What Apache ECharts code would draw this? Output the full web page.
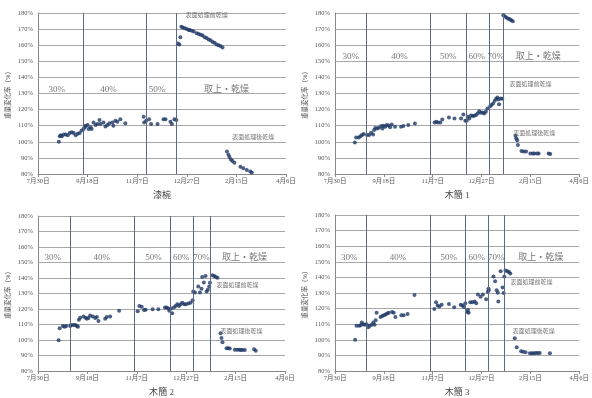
<!DOCTYPE html>
<html>
<head>
<meta charset="utf-8">
<script src="https://cdn.jsdelivr.net/npm/echarts@6/dist/echarts.min.js"></script>
<style>
  html, body { margin: 0; padding: 0; background: #fff; }
  #chart { width: 592px; height: 398px; }
</style>
</head>
<body>
<div id="chart"></div>
<script>
// x = days since 7/30, ticks every 50 days
const xTicks = ['7月30日', '9月18日', '11月7日', '12月27日', '2月15日', '4月6日'];
const titles = ['漆椀', '木簡 1', '木簡 2', '木簡 3'];

// 漆椀
const pts1 = [[21,100],[22,103.5],[23,104],[24,103.5],[26,104.5],[28,104.5],[30,104],[32,105.5],[34,106],[36,105.5],[38,104],[40,105],[42,105.5],[44,107],[46,108],[47,109],[48,110],[50,110.5],[51,108],[53,109],[54,108],[56,112],[58,110.5],[60,111],[62,113.5],[63,111],[66,112],[68,109.5],[70,110.5],[72,111.5],[75,112],[76,110],[78,113],[80,112.5],[83,114],[88,111.5],
  [106.5,115.5],[107,112],[109,113],[112,114],[114,111],[120.5,111],[126.5,114],[128.5,114],[133.5,112.5],[135,111],[137.5,114],[139.5,113.5],
  [141,161],[142.5,160.5],[143.5,165],[144.5,171.5],[146,171],[148,170.5],[150,170],[152,169.5],[153,169.5],[155,169],[157,168.5],[160,167.5],[162,167],[164,166.5],[166,166],[168,165],[170,164.5],[172,163.5],[174,163],[176,162],[178,161.5],[180,160.5],[182,160],[184,159.5],[186,158.5],
  [190.5,94],[192,92],[193,90.5],[194.5,89],[196,88],[198,87],[204,84.5],[207,83.5],[210.5,82.5],[214,81.5],[215.5,81]];
const lines1 = [46, 109, 139];
const labels1 = [[19,132.5,'30%'],[71,132.5,'40%'],[120,132.5,'50%'],[190,132.5,'取上・乾燥'],[170,178.5,'表面処理前乾燥'],[217,102.5,'表面処理後乾燥']];

// 木簡 1
const pts2 = [[20.3,99.6],[21.6,102.7],[24.3,102.7],[26,103.5],[27.7,104.2],[29.4,104.8],[32.8,104.2],[35,104.2],[37,105.6],[39,104.6],[40,107.3],[41.2,108.5],[43,108.3],[45,108.7],[47.3,109.8],[48.6,108.3],[49.7,110],[51.4,109.3],[53,110.4],[54.7,110.2],[56.4,109],[58,110.8],[61.5,109.3],[67.6,109.3],[70,109.8],[75,110.4],[81.8,111.4],
  [102,112],[103.7,112.4],[105.4,112],[107.8,112],[109.8,113.9],[116.6,115.1],[122.3,114.5],[129,114.5],[131.4,117],[133.4,113],
  [134.8,113],[135.8,115.5],[137.5,114.5],[139.2,116.4],[140.9,116],[142.6,116.2],[144.3,116.6],[146,117.6],[147.6,119],[149.3,118],[151,118.2],[152.7,117.6],[154.4,118.6],[156,120.7],
  [158.8,122.1],[160.1,122.8],[161.8,123.8],[163.5,125.5],[164.9,126.7],[166.2,127.5],[167.2,126.3],[167.9,123.4],[169.6,126.9],[171.3,126.7],
  [172.3,178.6],[174,177.9],[175.7,177.1],[177.4,176.5],[179,176.1],[180.4,175.5],[182,174.8],
  [184.8,103.8],[185.5,102.1],[186.5,101],[187.2,98],[190.9,94.3],[193.2,93.9],[195.6,93.9],[200,92.8],[202.4,92.8],[204,92.8],[206.8,92.8],[208.4,92.8],[218.6,92.8],[220.3,92.4]];
const lines2 = [32, 97.6, 134, 158, 172];
const labels2 = [[16,153,'30%'],[66,153,'40%'],[116,153,'50%'],[145,153,'60%'],[164.5,153,'70%'],[208,153,'取上・乾燥'],[200,135.5,'表面処理前乾燥'],[204,105,'表面処理後乾燥']];

// 木簡 2
const pts3 = [[20.9,99.9],[21.9,107.5],[25.2,109],[26.9,108.6],[28.6,109],[32.6,109],[33.6,109.6],[36,109.6],[37.7,109.6],[39.4,109],[40.4,108.6],[41.4,113.1],[42.7,114.4],[46,115.2],[48.1,114.4],[49.5,113.7],[51.1,114.2],[52.8,115.8],[55.5,115.2],[57.9,114.2],[59.6,114.8],[61.2,112.3],[68,113.7],[69.6,114.8],[73,115.2],[82.1,118.9],
  [100.9,118.5],[102.6,122],[105,121.4],[107.3,119.3],[109,119.5],[116,119.9],[121.8,119.9],[128.5,121],[130.2,121],[131.9,120.4],[132.9,118.9],
  [134.6,120.4],[135.9,117.3],[137.6,121],[139.3,122],[141,123.1],[142.7,122],[144.3,123.1],[146,124.1],[148,123.1],[149.7,123.1],[152.1,123.5],[154.4,124.1],[156.5,125.6],
  [157.1,131.3],[158.8,130.7],[162.2,134.5],[163.9,130.7],[165.5,133],[166.2,140.7],[167.9,137.1],[169.6,141.3],[170.6,131.3],[171.9,132.4],[173.3,134.5],[174,137],
  [176.6,141.7],[178.3,141.3],[180,140.7],[181.7,140.2],
  [184.7,104.4],[185.7,101.3],[186.7,98.6],[190.8,94.7],[192.5,94.7],[194.1,94.5],[199.2,93.7],[201.5,93.7],[203.6,93.7],[205.2,93.5],[206.9,93.5],[209.3,93.5],[218.7,94.1],[220.4,93]];
const lines3 = [32.6, 97.6, 133.6, 157, 174];
const labels3 = [[15,153,'30%'],[64.5,153,'40%'],[117,153,'50%'],[145,153,'60%'],[165.5,153,'70%'],[209,153,'取上・乾燥'],[202,135.5,'表面処理前乾燥'],[206,105.5,'表面処理後乾燥']];

// 木簡 3
const pts4 = [[20.6,100.1],[22,109],[24.7,109],[26.4,109.4],[27.4,111.1],[29,110],[30.7,109.6],[32.4,110],[34.1,108],[35.5,109],[37.5,109.6],[39.2,111.1],[40.5,109.6],[41.6,112.5],[42.6,117.3],[46.6,114.6],[48.3,115.2],[50,115.8],[51.7,116.2],[53.4,116.9],[55,117.3],[58.4,117.9],[60.1,117.3],[61.8,114.6],[67.9,115.8],[70.3,115.8],[74.3,116.6],[81.4,128.7],
  [101.7,119.8],[103.4,124.1],[105,122],[106.8,121.4],[109.1,122.4],[116.6,122.9],[122,120.8],[128.7,122.4],[130.4,122],[132.1,121],
  [133.4,123.5],[135.5,117.9],[136.1,119.3],[136.8,117.3],[138.5,124.1],[140.5,124.1],[142.9,124.5],[144.6,123.5],[146.3,129.1],[149,127.6],[151.4,129.1],[154.7,126],[156.4,130.7],[157.1,132.8],
  [157.4,131.8],[162.2,140.5],[163.9,137.6],[165.5,131.8],[166.6,130.1],[167.2,124.5],[169.5,144],[171.5,133.5],[172.5,130],[173.3,140.5],
  [174.5,144.5],[176.5,144],[178,143.5],[179.5,142.5],
  [184,101],[186,95.3],[190.5,92.6],[192.5,92.3],[195,92],[199.5,91.3],[201.5,91.3],[203.5,91.3],[205.5,91.5],[207.5,91.5],[209.5,91.5],[220,91.3]];
const lines4 = [32, 97.3, 133.4, 157, 173.3];
const labels4 = [[14.5,152.5,'30%'],[64.5,152.5,'40%'],[116.5,152.5,'50%'],[145,152.5,'60%'],[165,152.5,'70%'],[210.5,152.5,'取上・乾燥'],[201,137,'表面処理前乾燥'],[203.5,105.5,'表面処理後乾燥']];

const allPts = [pts1, pts2, pts3, pts4];
const allLines = [lines1, lines2, lines3, lines4];
const allLabels = [labels1, labels2, labels3, labels4];

const serif = '"Liberation Serif", "Noto Sans CJK JP", serif';
const grids = [
  { left: 38, top: 13, width: 248, height: 161 },
  { left: 335, top: 13, width: 247, height: 161 },
  { left: 38, top: 216, width: 247, height: 161 },
  { left: 335, top: 215, width: 247, height: 161 }
];

const chart = echarts.init(document.getElementById('chart'));

const xAxes = grids.map((g, i) => ({
  type: 'value', gridIndex: i, min: 0, max: 250, interval: 50,
  name: titles[i], nameLocation: 'middle', nameGap: 17,
  nameTextStyle: { fontSize: 9, color: '#444', fontFamily: serif },
  axisLine: { lineStyle: { color: '#888' } },
  axisTick: { show: true, length: 3, lineStyle: { color: '#888' } },
  axisLabel: { fontSize: 6.5, color: '#555', margin: 4, fontFamily: serif,
    formatter: v => xTicks[Math.round(v / 50)] },
  splitLine: { show: false }
}));

const yAxes = grids.map((g, i) => ({
  type: 'value', gridIndex: i, min: 80, max: 180, interval: 10,
  name: '重量変化率（%）', nameLocation: 'middle', nameRotate: 90, nameGap: 26,
  nameTextStyle: { fontSize: 6.5, color: '#555', fontFamily: serif },
  axisLine: { show: true, lineStyle: { color: '#888' } },
  axisTick: { show: false },
  axisLabel: { fontSize: 6.5, color: '#555', margin: 5, fontFamily: serif,
    formatter: v => v + '%' },
  splitLine: { show: true, lineStyle: { color: '#a8a8a8', width: 1 } }
}));

const series = [];
grids.forEach((g, i) => {
  series.push({
    type: 'scatter', xAxisIndex: i, yAxisIndex: i,
    data: allPts[i], symbolSize: 4,
    itemStyle: { color: '#1f3a66' },
    markLine: {
      silent: true, symbol: 'none', label: { show: false },
      lineStyle: { color: '#5d6b82', type: 'solid', width: 1 },
      data: allLines[i].map(d => ({ xAxis: d }))
    }
  });
  series.push({
    type: 'scatter', xAxisIndex: i, yAxisIndex: i,
    data: allLabels[i].map(d => d[2].startsWith('表面')
      ? { value: d, label: { fontSize: 6, color: '#555' } }
      : d),
    symbolSize: 0, silent: true,
    label: {
      show: true, position: 'inside', color: '#555', fontFamily: serif,
      fontSize: 9,
      formatter: p => p.value[2]
    },
    labelLayout: { hideOverlap: false }
  });
});

chart.setOption({
  animation: false,
  grid: grids,
  xAxis: xAxes,
  yAxis: yAxes,
  series: series
});
</script>
</body>
</html>
